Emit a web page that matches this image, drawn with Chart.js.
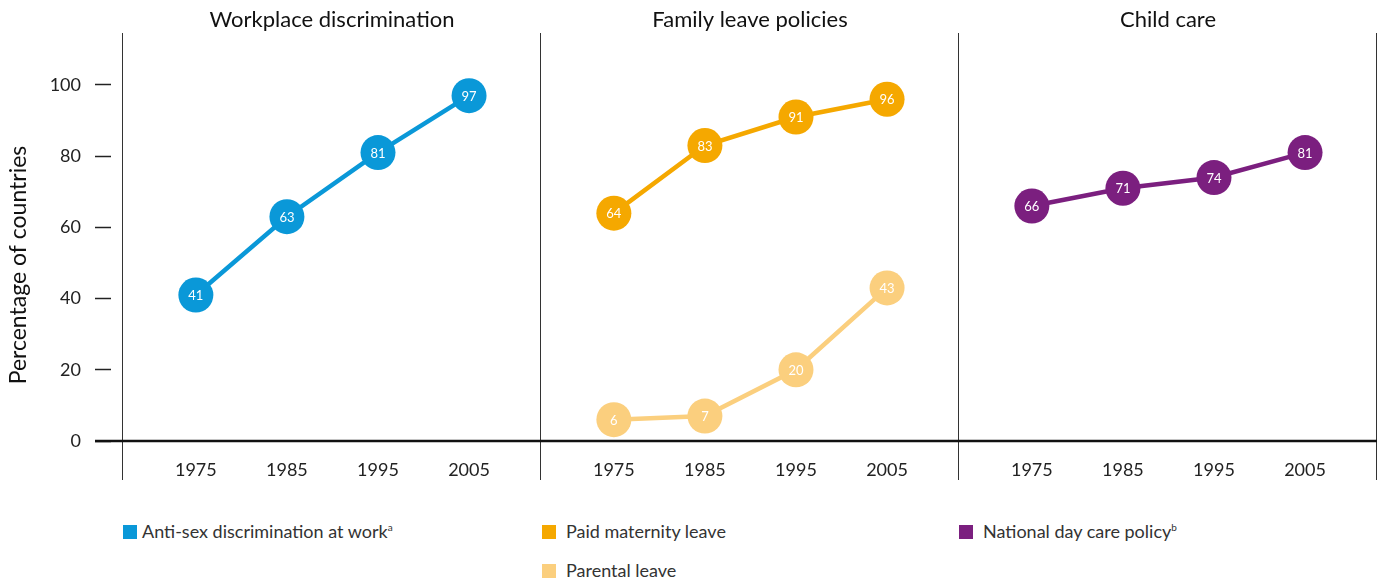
<!DOCTYPE html>
<html>
<head>
<meta charset="utf-8">
<script src="https://cdn.jsdelivr.net/npm/chart.js@4/dist/chart.umd.min.js"></script>
<style>
  body { margin: 0; background: #fff; font-family: Lato, "Open Sans", sans-serif; }
  #wrap { position: relative; width: 1382px; height: 579px; }
  #chart { position: absolute; left: 0; top: 0; }
  .key { position: absolute; font-size: 18px; color: #333; white-space: nowrap; line-height: 20px; }
  .key i { display: inline-block; width: 14px; height: 14px; vertical-align: -1px; margin-right: 5px; }
  .key sup { font-size: 10px; vertical-align: 7px; line-height: 0; }
</style>
</head>
<body>
<div id="wrap">
  <canvas id="chart" width="1382" height="500"></canvas>
  <div class="key" style="left:123px; top:521px"><i style="background:#0A98D8"></i>Anti-sex discrimination at work<sup>a</sup></div>
  <div class="key" style="left:542px; top:521px"><i style="background:#F5A800;margin-right:10px"></i>Paid maternity leave</div>
  <div class="key" style="left:542px; top:560px"><i style="background:#FBCF7E;margin-right:10px"></i>Parental leave</div>
  <div class="key" style="left:959px; top:521px"><i style="background:#7B1F7F;margin-right:10px"></i>National day care policy<sup>b</sup></div>
</div>
<script>
// data
let years = [1975, 1985, 1995, 2005];
let panelTitles = ["Workplace discrimination", "Family leave policies", "Child care"];
let antiDiscrimination = [41, 63, 81, 97];
let paidMaternity = [64, 83, 91, 96];
let parentalLeave = [6, 7, 20, 43];
let dayCare = [66, 71, 74, 81];
let yTicks = [0, 20, 40, 60, 80, 100];

// each panel covers ~46 years on the x scale, starting 8 years before 1975
let panelSpan = 45.9;
let panelStart = 1967;
function xOf(panel, yr) { return panel * panelSpan + (yr - panelStart); }
function series(panel, vals) { return years.map((yr, i) => ({ x: xOf(panel, yr), y: vals[i] })); }

let fontName = "Lato, 'Open Sans', sans-serif";

function lineSet(label, panel, vals, color) {
  return {
    label: label,
    data: series(panel, vals),
    borderColor: color,
    backgroundColor: color,
    borderWidth: 4.5,
    pointRadius: 17.5,
    pointHoverRadius: 17.5,
    pointBorderWidth: 0,
    pointBackgroundColor: color,
    tension: 0
  };
}

let panelsPlugin = {
  id: 'panels',
  beforeDatasetsDraw(chart) {
    let c = chart.ctx, a = chart.chartArea, xs = chart.scales.x, ys = chart.scales.y;
    c.save();
    c.strokeStyle = '#333';
    c.lineWidth = 1;
    for (let p = 0; p <= panelTitles.length; p++) {
      let px = Math.round(xs.getPixelForValue(p * panelSpan)) - 0.5;
      c.beginPath();
      c.moveTo(px, a.top);
      c.lineTo(px, a.bottom + 39);
      c.stroke();
    }
    // zero line
    let y0 = ys.getPixelForValue(0);
    c.strokeStyle = '#111';
    c.lineWidth = 2.5;
    c.beginPath();
    c.moveTo(95, y0);
    c.lineTo(a.right, y0);
    c.stroke();
    // panel titles
    c.fillStyle = '#111';
    c.font = "22px " + fontName;
    c.textAlign = 'center';
    c.textBaseline = 'middle';
    panelTitles.forEach((t, p) => {
      c.fillText(t, xs.getPixelForValue(p * panelSpan + panelSpan / 2), 20);
    });
    // y title
    c.save();
    c.translate(19, ys.getPixelForValue(50) + 2);
    c.rotate(-Math.PI / 2);
    c.font = "23px " + fontName;
    c.fillText('Percentage of countries', 0, 0);
    c.restore();
    c.restore();
  },
  afterDatasetsDraw(chart) {
    let c = chart.ctx;
    c.save();
    c.fillStyle = '#fff';
    c.font = "13px " + fontName;
    c.textAlign = 'center';
    c.textBaseline = 'middle';
    chart.data.datasets.forEach((ds, di) => {
      chart.getDatasetMeta(di).data.forEach((pt, i) => {
        c.fillText(String(ds.data[i].y), pt.x, pt.y + 1);
      });
    });
    c.restore();
  }
};

new Chart(document.getElementById('chart'), {
  type: 'line',
  data: {
    datasets: [
      lineSet('Anti-sex discrimination at work', 0, antiDiscrimination, '#0A98D8'),
      lineSet('Paid maternity leave', 1, paidMaternity, '#F5A800'),
      lineSet('Parental leave', 1, parentalLeave, '#FBCF7E'),
      lineSet('National day care policy', 2, dayCare, '#7B1F7F')
    ]
  },
  options: {
    responsive: false,
    animation: false,
    events: [],
    layout: { autoPadding: false, padding: { top: 33, right: 5, left: 0, bottom: 0 } },
    plugins: { legend: { display: false }, tooltip: { enabled: false } },
    scales: {
      x: {
        type: 'linear',
        min: 0,
        max: panelSpan * panelTitles.length,
        border: { display: false },
        grid: { display: false },
        afterBuildTicks(s) {
          let t = [];
          for (let p = 0; p < panelTitles.length; p++) years.forEach(yr => t.push({ value: xOf(p, yr) }));
          s.ticks = t;
        },
        afterFit(s) { s.height = 59; s.paddingLeft = 0; s.paddingRight = 0; },
        ticks: {
          autoSkip: false,
          maxRotation: 0,
          padding: 10,
          color: '#222',
          font: { family: fontName, size: 18 },
          callback: (v, i) => years[i % years.length]
        }
      },
      y: {
        min: 0,
        max: 114.6,
        border: { display: false },
        afterBuildTicks(s) { s.ticks = yTicks.map(v => ({ value: v })); },
        afterFit(s) { s.width = 123; },
        grid: {
          drawOnChartArea: false,
          tickLength: 28,
          tickBorderDash: [16, 60],
          tickColor: '#222',
          tickWidth: 1.5
        },
        ticks: {
          padding: 14,
          color: '#222',
          font: { family: fontName, size: 18 }
        }
      }
    }
  },
  plugins: [panelsPlugin]
});
</script>
</body>
</html>
